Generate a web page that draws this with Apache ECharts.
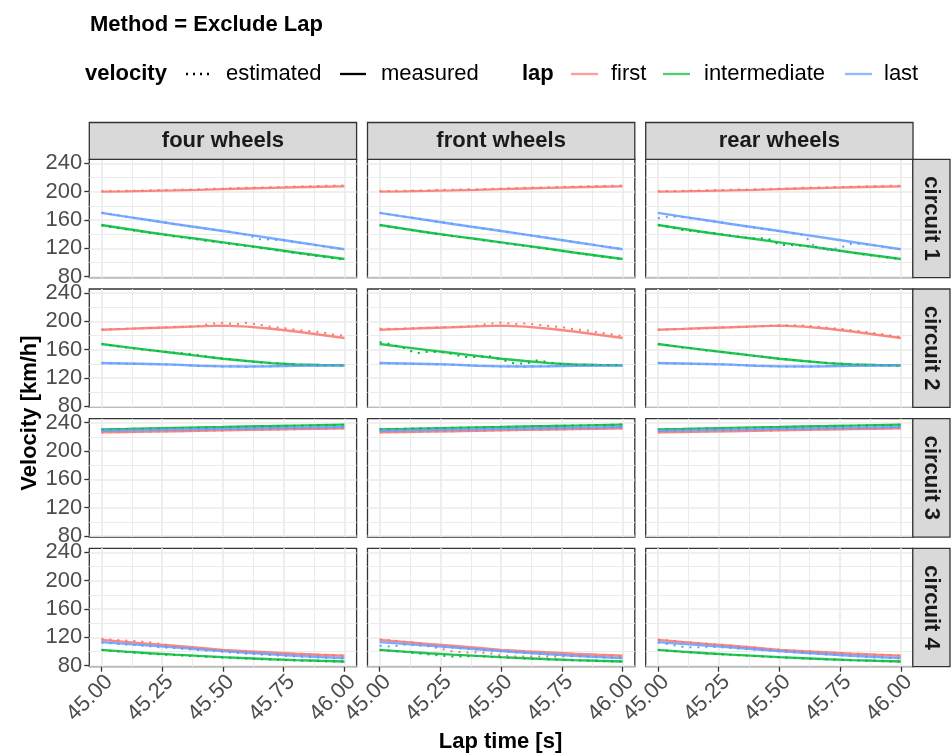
<!DOCTYPE html>
<html>
<head>
<meta charset="utf-8">
<script src="https://cdn.jsdelivr.net/npm/echarts@6/dist/echarts.min.js"></script>
<style>
  html, body { margin: 0; padding: 0; background: #ffffff; }
  #chart { width: 951px; height: 756px; }
</style>
</head>
<body>
<div id="chart"></div>
<script>
// ---- facets and groups ----
const methods = ['four wheels', 'front wheels', 'rear wheels'];
const circuits = ['circuit 1', 'circuit 2', 'circuit 3', 'circuit 4'];
const laps = ['first', 'intermediate', 'last'];

// ---- axis ticks ----
const xTicks = [45.00, 45.25, 45.50, 45.75, 46.00];
const xMinorTicks = [45.125, 45.375, 45.625, 45.875];
const yTicks = [80, 120, 160, 200, 240];
const yMinorTicks = [100, 140, 180, 220];

// ---- sample times (s) ----
const timeMeasured = [45.0, 45.1, 45.2, 45.3, 45.4, 45.5, 45.6, 45.7, 45.8, 45.9, 46.0];
const timeEstimated = [45.00, 45.05, 45.10, 45.15, 45.20, 45.25, 45.30, 45.35, 45.40, 45.45, 45.50,
                       45.55, 45.60, 45.65, 45.70, 45.75, 45.80, 45.85, 45.90, 45.95, 46.00];

// ---- measured velocity (km/h), per circuit and lap ----
const c1_first_measured = [200.0, 200.4, 201.0, 201.7, 202.5, 203.5, 204.4, 205.3, 206.1, 206.8, 207.4];
const c1_intermediate_measured = [152.9, 147.6, 142.4, 137.6, 133.1, 128.5, 123.8, 119.0, 114.2, 109.5, 105.0];
const c1_last_measured = [170.0, 164.8, 159.6, 154.4, 149.4, 144.4, 139.4, 134.2, 129.0, 123.8, 118.7];

const c2_first_measured = [188.2, 189.3, 190.5, 191.6, 192.9, 193.9, 192.6, 189.5, 185.6, 181.0, 176.5];
const c2_intermediate_measured = [168.0, 163.6, 159.4, 155.3, 151.2, 147.3, 144.0, 141.0, 139.2, 138.3, 137.9];
const c2_last_measured = [141.2, 140.5, 139.8, 138.9, 137.4, 136.5, 136.3, 136.7, 137.2, 137.6, 137.9];

const c3_first_measured = [226.4, 226.9, 227.4, 228.0, 228.6, 229.2, 229.8, 230.4, 230.9, 231.5, 232.0];
const c3_intermediate_measured = [230.6, 231.2, 231.9, 232.6, 233.3, 233.9, 234.6, 235.2, 235.9, 236.6, 237.2];
const c3_last_measured = [228.7, 229.2, 229.7, 230.2, 230.7, 231.3, 231.8, 232.3, 232.8, 233.4, 233.9];

const c4_first_measured = [116.5, 113.6, 110.8, 108.1, 105.3, 102.4, 100.3, 98.6, 96.9, 95.4, 94.0];
const c4_intermediate_measured = [102.4, 99.9, 97.5, 95.6, 93.8, 92.1, 90.6, 89.1, 87.9, 86.9, 86.0];
const c4_last_measured = [113.2, 110.8, 108.3, 105.8, 103.2, 100.6, 98.3, 96.1, 94.0, 92.3, 90.7];

// ---- estimated velocity (km/h), per circuit, method and lap ----
// circuit 1
const c1_first_four = [200.5, 200.8, 201.2, 201.4, 201.9, 202.2, 202.5, 203.0, 203.3, 203.8, 204.3, 204.9, 205.4, 205.8, 206.3, 206.8, 207.2, 207.6, 208.0, 208.4, 208.8];
const c1_intermediate_four = [152.5, 149.3, 147.0, 144.3, 141.8, 139.5, 136.8, 134.6, 132.3, 130.0, 127.8, 125.2, 123.0, 120.8, 118.2, 115.9, 113.4, 111.0, 108.6, 106.3, 104.2];
const c1_last_four = [170.3, 167.6, 164.9, 162.3, 159.7, 157.1, 154.2, 151.8, 149.5, 147.0, 144.8, 142.2, 139.0, 133.0, 132.5, 131.2, 128.6, 126.0, 123.4, 120.8, 118.4];
const c1_first_front = [200.8, 201.0, 201.3, 201.6, 202.0, 202.4, 202.8, 203.1, 203.5, 204.0, 204.4, 205.0, 205.4, 205.8, 206.3, 206.7, 207.1, 207.5, 207.9, 208.3, 208.6];
const c1_intermediate_front = [152.8, 149.9, 147.4, 144.6, 142.3, 139.6, 137.2, 135.0, 132.8, 130.1, 128.0, 125.7, 123.4, 120.9, 118.6, 116.3, 113.9, 111.4, 109.1, 106.8, 104.8];
const c1_last_front = [170.2, 167.5, 164.9, 162.4, 159.8, 157.2, 154.6, 152.0, 149.6, 147.1, 144.6, 142.0, 139.6, 137.0, 134.4, 131.8, 129.2, 126.6, 124.0, 121.4, 118.8];
const c1_first_rear = [200.4, 200.9, 201.1, 201.5, 201.8, 202.2, 202.6, 203.0, 203.3, 203.8, 204.2, 204.7, 205.3, 205.7, 206.2, 206.6, 207.0, 207.4, 207.8, 208.1, 208.5];
const c1_intermediate_rear = [152.9, 150.0, 146.0, 143.8, 142.8, 140.6, 138.0, 135.5, 133.8, 134.5, 125.0, 124.6, 123.4, 122.2, 118.6, 116.3, 113.9, 111.4, 109.3, 107.0, 104.8];
const c1_last_rear = [162.5, 165.0, 164.2, 162.0, 159.5, 157.0, 154.4, 152.0, 149.2, 146.5, 144.0, 141.6, 139.0, 121.0, 117.5, 121.0, 127.0, 126.2, 123.6, 121.0, 118.6];
// circuit 2
const c2_first_four = [188.4, 188.9, 189.4, 190.0, 190.6, 191.4, 192.2, 192.6, 193.4, 196.5, 198.0, 196.0, 198.0, 195.3, 192.0, 190.6, 188.0, 186.4, 184.9, 181.6, 179.5];
const c2_intermediate_four = [168.2, 165.5, 163.4, 161.0, 159.2, 157.6, 155.8, 154.6, 152.2, 149.6, 147.6, 146.0, 143.6, 142.0, 141.2, 140.2, 139.0, 138.4, 138.0, 137.8, 137.6];
const c2_last_four = [141.0, 140.9, 140.3, 140.2, 139.5, 139.5, 138.6, 138.3, 137.2, 137.0, 136.2, 136.6, 135.6, 136.8, 136.4, 137.2, 137.0, 137.6, 137.4, 138.0, 137.8];
const c2_first_front = [189.6, 189.4, 189.9, 190.4, 190.9, 191.4, 192.0, 192.7, 194.0, 196.5, 198.1, 196.2, 197.0, 195.2, 193.2, 191.8, 189.0, 187.2, 184.5, 181.8, 179.3];
const c2_intermediate_front = [170.8, 167.5, 162.4, 155.0, 157.0, 156.7, 154.0, 149.6, 149.5, 151.1, 146.0, 141.0, 140.2, 145.2, 142.0, 139.8, 139.0, 138.6, 138.4, 138.2, 138.0];
const c2_last_front = [141.0, 140.6, 140.6, 140.0, 139.6, 139.6, 138.7, 138.2, 137.2, 137.0, 136.3, 136.6, 136.0, 136.8, 136.6, 137.3, 137.0, 137.5, 137.5, 137.9, 137.8];
const c2_first_rear = [188.0, 188.6, 189.3, 189.7, 190.4, 191.0, 191.7, 192.2, 192.8, 193.5, 194.2, 194.6, 194.0, 192.8, 191.0, 189.3, 187.4, 185.0, 183.0, 180.6, 177.6];
const c2_intermediate_rear = [168.0, 166.0, 163.2, 161.7, 159.0, 157.5, 155.0, 153.5, 151.0, 149.4, 147.0, 145.8, 143.8, 142.6, 141.2, 140.2, 139.4, 138.6, 138.2, 137.8, 137.2];
const c2_last_rear = [141.3, 140.7, 140.6, 140.0, 139.7, 139.5, 138.8, 138.0, 137.5, 136.8, 136.6, 136.3, 136.5, 136.4, 137.0, 136.9, 137.4, 137.3, 137.8, 137.7, 138.0];
// circuit 3
const c3_first_four = [226.0, 226.5, 226.8, 227.0, 227.3, 227.5, 228.0, 228.1, 228.5, 228.8, 229.0, 229.4, 229.7, 230.0, 230.2, 230.5, 230.8, 231.1, 231.4, 231.6, 231.9];
const c3_intermediate_four = [230.4, 230.8, 231.0, 231.4, 231.7, 232.1, 232.4, 232.8, 233.1, 233.5, 233.7, 234.1, 234.4, 234.8, 235.0, 235.4, 235.7, 236.0, 236.4, 236.7, 237.0];
const c3_last_four = [229.0, 229.3, 229.6, 230.0, 230.1, 230.4, 231.2, 230.9, 231.0, 231.3, 231.6, 231.8, 232.0, 232.2, 232.5, 232.7, 233.0, 233.3, 233.5, 233.8, 234.0];
const c3_first_front = [226.6, 226.8, 227.0, 227.3, 227.5, 227.8, 228.0, 228.3, 228.6, 228.8, 229.1, 229.4, 229.7, 230.0, 230.3, 230.5, 230.8, 231.0, 231.3, 231.6, 231.8];
const c3_intermediate_front = [231.0, 231.3, 231.6, 231.8, 232.2, 232.5, 232.8, 233.1, 233.4, 233.7, 234.1, 234.3, 234.7, 235.0, 235.3, 235.7, 236.0, 236.3, 236.7, 237.0, 237.4];
const c3_last_front = [228.5, 228.9, 229.1, 229.4, 229.6, 229.9, 230.1, 230.4, 230.6, 230.9, 231.2, 231.4, 231.7, 231.9, 232.2, 232.4, 232.7, 233.0, 233.3, 233.5, 233.8];
const c3_first_rear = [226.5, 226.8, 227.1, 227.3, 227.6, 227.8, 228.1, 228.4, 228.7, 229.0, 229.3, 229.6, 229.9, 230.2, 230.5, 230.7, 231.0, 231.3, 231.6, 231.8, 232.1];
const c3_intermediate_rear = [230.3, 230.7, 231.0, 231.3, 231.7, 232.0, 232.4, 232.7, 233.0, 233.4, 233.7, 234.0, 234.4, 234.7, 235.0, 235.4, 235.7, 236.0, 236.4, 236.7, 237.0];
const c3_last_rear = [228.9, 229.1, 229.4, 229.6, 229.9, 230.1, 230.4, 230.6, 230.9, 231.1, 231.4, 231.6, 231.9, 232.1, 232.4, 232.6, 232.9, 233.2, 233.5, 233.7, 234.0];
// circuit 4
const c4_first_four = [118.0, 116.4, 115.5, 114.6, 113.0, 110.3, 107.5, 104.5, 103.0, 102.4, 101.0, 99.2, 97.5, 96.3, 95.4, 95.4, 95.4, 95.3, 95.0, 94.6, 94.4];
const c4_intermediate_four = [102.0, 100.6, 99.5, 98.0, 97.0, 95.8, 95.0, 94.0, 93.2, 92.4, 91.4, 90.8, 90.0, 89.3, 88.6, 88.0, 87.4, 86.9, 86.4, 86.0, 85.6];
const c4_last_four = [112.6, 111.4, 110.0, 108.8, 107.4, 105.8, 104.8, 103.4, 102.2, 100.8, 99.6, 98.4, 97.0, 96.0, 95.0, 94.0, 93.0, 92.2, 91.4, 90.6, 90.0];
const c4_first_front = [117.0, 115.8, 114.0, 112.4, 108.0, 104.0, 100.2, 98.7, 99.0, 97.7, 94.5, 93.0, 93.0, 92.8, 93.0, 93.2, 93.5, 93.6, 93.8, 93.9, 94.0];
const c4_intermediate_front = [102.0, 100.8, 99.6, 97.5, 96.0, 94.4, 93.0, 93.2, 93.6, 92.6, 91.8, 91.0, 90.3, 89.6, 88.9, 88.3, 87.7, 87.2, 86.7, 86.2, 85.8];
const c4_last_front = [108.0, 107.1, 109.5, 108.8, 107.6, 106.5, 105.3, 104.0, 102.8, 101.5, 100.2, 99.0, 97.8, 96.8, 95.8, 94.7, 93.7, 92.8, 92.0, 91.2, 90.5];
const c4_first_rear = [116.8, 115.4, 113.8, 112.4, 111.2, 109.8, 108.5, 107.2, 105.6, 104.0, 102.8, 101.6, 100.6, 99.8, 98.9, 98.0, 97.2, 96.4, 95.6, 94.9, 94.2];
const c4_intermediate_rear = [102.2, 100.9, 99.6, 98.4, 97.3, 96.3, 95.4, 94.5, 93.6, 92.7, 91.9, 91.1, 90.4, 89.6, 88.9, 88.3, 87.7, 87.2, 86.7, 86.2, 85.8];
const c4_last_rear = [112.8, 110.2, 106.8, 105.6, 106.6, 106.2, 105.0, 103.8, 102.6, 101.4, 100.0, 99.0, 97.8, 96.8, 95.6, 94.6, 93.6, 92.6, 91.8, 91.0, 90.2];

// lookup tables built from the arrays above
const measured = [
  [c1_first_measured, c1_intermediate_measured, c1_last_measured],
  [c2_first_measured, c2_intermediate_measured, c2_last_measured],
  [c3_first_measured, c3_intermediate_measured, c3_last_measured],
  [c4_first_measured, c4_intermediate_measured, c4_last_measured]
];
const estimated = [
  [[c1_first_four, c1_intermediate_four, c1_last_four], [c1_first_front, c1_intermediate_front, c1_last_front], [c1_first_rear, c1_intermediate_rear, c1_last_rear]],
  [[c2_first_four, c2_intermediate_four, c2_last_four], [c2_first_front, c2_intermediate_front, c2_last_front], [c2_first_rear, c2_intermediate_rear, c2_last_rear]],
  [[c3_first_four, c3_intermediate_four, c3_last_four], [c3_first_front, c3_intermediate_front, c3_last_front], [c3_first_rear, c3_intermediate_rear, c3_last_rear]],
  [[c4_first_four, c4_intermediate_four, c4_last_four], [c4_first_front, c4_intermediate_front, c4_last_front], [c4_first_rear, c4_intermediate_rear, c4_last_rear]]
];

// ---- styling and layout ----
const FONT = '"Liberation Sans", Arial, Helvetica, sans-serif';
const lapColors = ['#F8766D', '#00BA38', '#619CFF'];
const GRID_MAJOR = '#EBEBEB';
const BORDER = '#333333';
const X_MIN = 44.95, X_MAX = 46.05;
const Y_MIN = 78.6, Y_MAX = 245.6;

const colLeft = [89.3, 367.5, 645.7];
const panelW = 267.3;
const rowTop = [159.3, 289.0, 418.7, 548.3];
const panelH = 118.4;
const stripTop = 122.5, stripH = 36.8;
const rowStripLeft = 912.8, rowStripW = 37.2;
const TEXT_SIZE = 22;

const pairs = (xs, ys) => xs.map((x, i) => [x, ys[i]]);

const grids = [], xAxes = [], yAxes = [], series = [];

circuits.forEach((circ, r) => {
  methods.forEach((meth, k) => {
    const g = grids.length;
    const isBottom = r === circuits.length - 1;
    const isLeft = k === 0;
    grids.push({
      left: colLeft[k], top: rowTop[r], width: panelW, height: panelH,
      show: true, backgroundColor: '#ffffff', borderColor: BORDER, borderWidth: 1.3
    });
    // major x axis; rotated labels hang from their top-right corner
    xAxes.push({
      type: 'value', gridIndex: g, min: X_MIN, max: X_MAX, position: 'bottom',
      axisLine: { show: false },
      axisTick: { show: isBottom, length: 5, customValues: xTicks, lineStyle: { color: BORDER, width: 1.3 } },
      axisLabel: {
        show: isBottom, customValues: xTicks, rotate: 45, margin: 4,
        align: 'right', verticalAlign: 'top',
        fontSize: TEXT_SIZE, fontFamily: FONT, color: '#4D4D4D',
        formatter: v => Number(v).toFixed(2)
      },
      splitLine: { show: true, lineStyle: { color: GRID_MAJOR, width: 1.7 } }
    });
    // minor x gridlines
    xAxes.push({
      type: 'value', gridIndex: g, min: X_MIN, max: X_MAX, position: 'top',
      axisLine: { show: false },
      axisTick: { show: false, customValues: xMinorTicks },
      axisLabel: { show: false, customValues: xMinorTicks },
      splitLine: { show: true, lineStyle: { color: GRID_MAJOR, width: 1 } }
    });
    // major y axis
    yAxes.push({
      type: 'value', gridIndex: g, min: Y_MIN, max: Y_MAX, position: 'left',
      axisLine: { show: false },
      axisTick: { show: isLeft, length: 5, customValues: yTicks, lineStyle: { color: BORDER, width: 1.3 } },
      axisLabel: {
        show: isLeft, customValues: yTicks, margin: 7,
        fontSize: TEXT_SIZE, fontFamily: FONT, color: '#4D4D4D'
      },
      splitLine: { show: true, lineStyle: { color: GRID_MAJOR, width: 1.7 } }
    });
    // minor y gridlines
    yAxes.push({
      type: 'value', gridIndex: g, min: Y_MIN, max: Y_MAX, position: 'right',
      axisLine: { show: false },
      axisTick: { show: false, customValues: yMinorTicks },
      axisLabel: { show: false, customValues: yMinorTicks },
      splitLine: { show: true, lineStyle: { color: GRID_MAJOR, width: 1 } }
    });

    laps.forEach((lap, l) => {
      series.push({
        name: lap + ' measured', type: 'line', xAxisIndex: 2 * g, yAxisIndex: 2 * g,
        data: pairs(timeMeasured, measured[r][l]),
        symbol: 'none', smooth: false, silent: true, z: 2,
        lineStyle: { color: lapColors[l], width: 2.4, opacity: 0.85 }
      });
    });
    laps.forEach((lap, l) => {
      series.push({
        name: lap + ' estimated', type: 'line', xAxisIndex: 2 * g, yAxisIndex: 2 * g,
        data: pairs(timeEstimated, estimated[r][k][l]),
        symbol: 'none', smooth: false, silent: true, z: 3,
        lineStyle: { color: lapColors[l], width: 2, type: [2, 6] }
      });
    });
  });
});

// ---- strips, titles and legend ----
const graphics = [];
methods.forEach((m, k) => {
  graphics.push({
    type: 'rect', shape: { x: colLeft[k], y: stripTop, width: panelW, height: stripH },
    style: { fill: '#D9D9D9', stroke: BORDER, lineWidth: 1.3 }, z: 10
  });
  graphics.push({
    type: 'text', x: colLeft[k] + panelW / 2, y: stripTop + stripH / 2,
    style: { text: m, fill: '#1A1A1A', font: 'bold ' + TEXT_SIZE + 'px ' + FONT, align: 'center', verticalAlign: 'middle' }, z: 11
  });
});
circuits.forEach((c, r) => {
  graphics.push({
    type: 'rect', shape: { x: rowStripLeft, y: rowTop[r], width: rowStripW, height: panelH },
    style: { fill: '#D9D9D9', stroke: BORDER, lineWidth: 1.3 }, z: 10
  });
  graphics.push({
    type: 'text', x: rowStripLeft + rowStripW / 2, y: rowTop[r] + panelH / 2, rotation: -Math.PI / 2,
    style: { text: c, fill: '#1A1A1A', font: 'bold ' + TEXT_SIZE + 'px ' + FONT, align: 'center', verticalAlign: 'middle' }, z: 11
  });
});

// title
graphics.push({
  type: 'text', x: 90, y: 25,
  style: { text: 'Method = Exclude Lap', fill: '#000', font: 'bold ' + TEXT_SIZE + 'px ' + FONT, verticalAlign: 'middle' }
});
// axis titles
graphics.push({
  type: 'text', x: 500.5, y: 742,
  style: { text: 'Lap time [s]', fill: '#000', font: 'bold ' + TEXT_SIZE + 'px ' + FONT, align: 'center', verticalAlign: 'middle' }
});
graphics.push({
  type: 'text', x: 30, y: 413, rotation: Math.PI / 2,
  style: { text: 'Velocity [km/h]', fill: '#000', font: 'bold ' + TEXT_SIZE + 'px ' + FONT, align: 'center', verticalAlign: 'middle' }
});

// legend
const LEG_Y = 74;
const legendText = (x, text, bold) => graphics.push({
  type: 'text', x: x, y: LEG_Y,
  style: { text: text, fill: '#000', font: (bold ? 'bold ' : '') + TEXT_SIZE + 'px ' + FONT, verticalAlign: 'middle' }
});
const legendKey = (x1, x2, color, dash, opacity) => graphics.push({
  type: 'line', shape: { x1: x1, y1: LEG_Y, x2: x2, y2: LEG_Y },
  style: { stroke: color, lineWidth: 2.3, lineDash: dash || null, opacity: opacity == null ? 1 : opacity }
});
legendText(85, 'velocity', true);
legendKey(186, 211, '#000', [2, 5]);
legendText(226, 'estimated');
legendKey(340, 366, '#000');
legendText(381, 'measured');
legendText(522, 'lap', true);
const lapKeyX = [571, 663, 845];
const lapTextX = [611, 704, 884];
laps.forEach((lap, l) => {
  legendKey(lapKeyX[l], lapKeyX[l] + 27, lapColors[l], null, 0.7);
  legendText(lapTextX[l], lap);
});

const chart = echarts.init(document.getElementById('chart'), null, { renderer: 'canvas' });
chart.setOption({
  animation: false,
  backgroundColor: '#ffffff',
  grid: grids,
  xAxis: xAxes,
  yAxis: yAxes,
  series: series,
  graphic: { elements: graphics }
});
</script>
</body>
</html>
